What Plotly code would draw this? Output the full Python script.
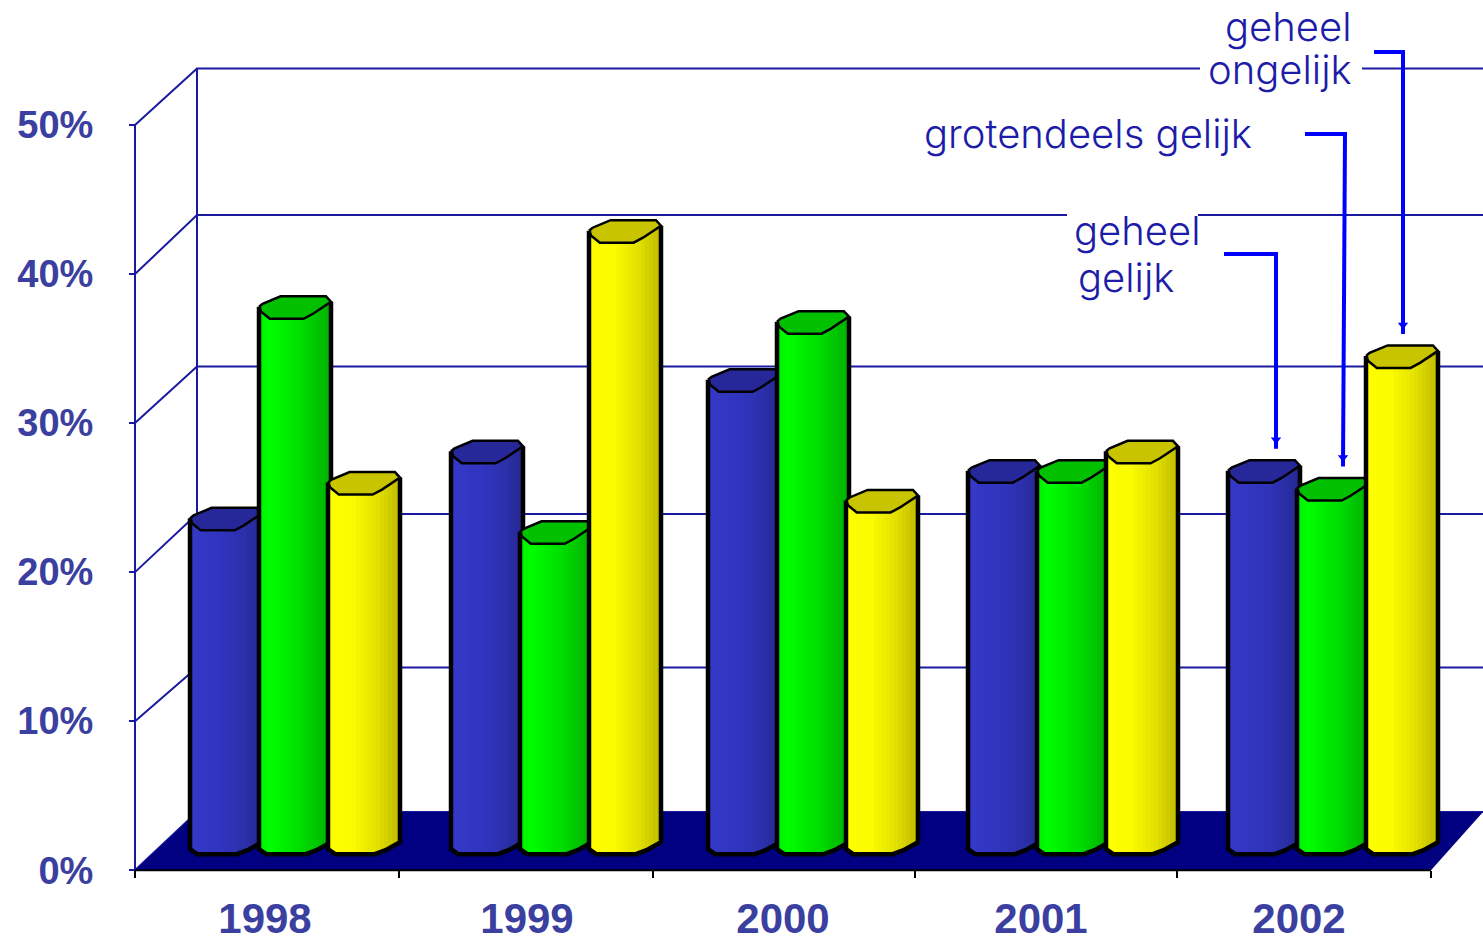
import numpy as np
import plotly.graph_objects as go

years = ["1998", "1999", "2000", "2001", "2002"]
geheel_gelijk = [22.4, 26.9, 31.7, 25.6, 25.6]
grotendeels_gelijk = [36.6, 21.5, 35.6, 25.6, 24.4]
geheel_ongelijk = [24.8, 41.7, 23.6, 26.9, 33.3]
pct_ticks = [0, 10, 20, 30, 40, 50]
pct_labels = ["0%", "10%", "20%", "30%", "40%", "50%"]
back_levels = [3.9, 13.6, 23.9, 33.8, 43.96, 53.8]

PX_PER_PCT = 14.9
AXIS_Y = 870
XR = [130, 1483]
YR = [-2, AXIS_Y / PX_PER_PCT]
BASE = 18 / PX_PER_PCT
GROUP_X = [190, 451, 708, 968, 1228]
W = 72
N = 18
NAVY = "#1a1aa0"
TXT = "#3b3f9f"

def py(p):
    return (AXIS_Y - p) / PX_PER_PCT

def hexmix(stops, t):
    ts = [s[0] for s in stops]
    rgb = [np.interp(t, ts, [int(s[1][k:k+2], 16) for s in stops]) for k in (1, 3, 5)]
    return "rgb(%d,%d,%d)" % tuple(int(v) for v in rgb)

series = [
    ("geheel gelijk", geheel_gelijk, 0,
     [(0, "#3539c8"), (0.5, "#3034bc"), (0.75, "#2c30aa"), (1, "#25288f")], "#26289a"),
    ("grotendeels gelijk", grotendeels_gelijk, 69,
     [(0, "#00f000"), (0.15, "#00ff00"), (0.6, "#00dc00"), (1, "#00b000")], "#00c000"),
    ("geheel ongelijk", geheel_ongelijk, 138,
     [(0, "#ffff00"), (0.35, "#fbfb00"), (0.7, "#e2e000"), (1, "#bfba00")], "#c8c400"),
]

top_t = [0, 0.03, 0.15, 0.62, 0.75, 1]
top_d = [0, 5, 12, 12, 7, -5]
bot_t = [0, 0.1, 0.65, 0.8, 1]
bot_d = [-5, 0, 0, -4, -12]
back_t = [0, 0.05, 0.3, 0.93, 1]
back_d = [0, -3, -10.5, -10.5, -5]

fig = go.Figure()

DX, GAPS = 62, {53.8: (1200, 1362), 43.96: (1067, 1198)}
for v, b in zip(pct_ticks, back_levels):
    xs, ys = [135, 135 + DX], [v, b]
    if b in GAPS:
        xs += [GAPS[b][0], None, GAPS[b][1]]
        ys += [b, None, b]
    xs.append(XR[1]); ys.append(b)
    fig.add_trace(go.Scatter(x=xs, y=ys, mode="lines", line=dict(color=NAVY, width=2),
                             hoverinfo="skip", showlegend=False))
fig.add_trace(go.Scatter(x=[135 + DX, 135 + DX], y=[back_levels[0], back_levels[-1]], mode="lines",
                         line=dict(color=NAVY, width=2), hoverinfo="skip", showlegend=False))
fig.add_trace(go.Scatter(x=[135, 135], y=[0, 50], mode="lines",
                         line=dict(color=NAVY, width=2), hoverinfo="skip", showlegend=False))
fig.add_trace(go.Scatter(x=[135, 197, 1483, 1431, 135], y=[0, back_levels[0], back_levels[0], 0, 0],
                         mode="lines", fill="toself", fillcolor="#000080", line=dict(width=0, color="#000080"),
                         hoverinfo="skip", showlegend=False))
fig.add_trace(go.Scatter(x=[135, 1431], y=[0, 0], mode="lines",
                         line=dict(color="#000000", width=2), hoverinfo="skip", showlegend=False))

ts = (np.arange(N) + 0.5) / N
for s, (name, vals, off, stops, capcol) in enumerate(series):
    ax = str(s + 2)
    xa, ya = "x" + ax, "y" + ax
    lefts = np.array([g + off for g in GROUP_X], dtype=float)
    vals = np.array(vals)
    for t in ts:
        tops = BASE + vals - np.interp(t, top_t, top_d) / PX_PER_PCT
        bases = BASE - 2 / PX_PER_PCT - np.interp(t, bot_t, bot_d) / PX_PER_PCT
        fig.add_trace(go.Bar(x=lefts + t * W, y=tops - bases, base=bases, width=W / N + 0.6,
                             marker=dict(color=hexmix(stops, t), line=dict(width=0)),
                             name=name, showlegend=False, hoverinfo="skip", xaxis=xa, yaxis=ya))
    for x0, v in zip(lefts, vals):
        c = BASE + v
        capx = [x0 + W * t for t in back_t] + [x0 + W * t for t in top_t[::-1]]
        capy = [c - d / PX_PER_PCT for d in back_d] + [c - d / PX_PER_PCT for d in top_d[::-1]]
        fig.add_trace(go.Scatter(x=capx, y=capy, mode="lines", fill="toself", fillcolor=capcol,
                                 line=dict(color="#000000", width=2.5), showlegend=False,
                                 hoverinfo="skip", xaxis=xa, yaxis=ya))
        ox = [x0] + [x0 + W * t for t in bot_t] + [x0 + W]
        oy = [c] + [BASE - 2 / PX_PER_PCT - d / PX_PER_PCT for d in bot_d] + [c + 5 / PX_PER_PCT]
        fig.add_trace(go.Scatter(x=ox, y=oy, mode="lines", line=dict(color="#000000", width=4.5),
                                 showlegend=False, hoverinfo="skip", xaxis=xa, yaxis=ya))

ARROW = "#0000ff"
for s, x_start, x_elbow, y_elbow, x_end in [(0, 1224, 1276, 254, 1276), (1, 1305, 1345, 134, 1343), (2, 1374, 1403, 52, 1403)]:
    top = BASE + series[s][1][4]
    end = top + 22 / PX_PER_PCT
    fig.add_trace(go.Scatter(x=[x_start, x_elbow, x_end], y=[py(y_elbow), py(y_elbow), end],
                             mode="lines", line=dict(color=ARROW, width=4), showlegend=False,
                             hoverinfo="skip", xaxis="x5", yaxis="y5"))
    fig.add_trace(go.Scatter(x=[x_end], y=[end + 9 / PX_PER_PCT], mode="markers",
                             marker=dict(symbol="triangle-down", size=9, color=ARROW, line=dict(width=0)),
                             showlegend=False, hoverinfo="skip", xaxis="x5", yaxis="y5"))

notes = [("geheel", 1288, 26), ("ongelijk", 1280, 69), ("grotendeels gelijk", 1088, 133),
         ("geheel", 1137, 230), ("gelijk", 1126, 277)]
for text, x, y in notes:
    fig.add_annotation(x=x, y=py(y), text=text, showarrow=False, xref="x5", yref="y5",
                       font=dict(family="Inter", size=40, weight=300, color="#1c1ca8"))

layout_axes = {}
for k in range(2, 6):
    layout_axes["xaxis%d" % k] = dict(overlaying="x", range=XR, visible=False, fixedrange=True, automargin=False)
    layout_axes["yaxis%d" % k] = dict(overlaying="y", range=YR, visible=False, fixedrange=True, automargin=False)

plot_h = (YR[1] - YR[0]) * PX_PER_PCT
fig.update_layout(
    width=1483, height=941, autosize=False,
    margin=dict(l=XR[0], r=0, t=0, b=941 - plot_h, pad=0),
    paper_bgcolor="white", plot_bgcolor="white",
    barmode="overlay", bargap=0, showlegend=False,
    xaxis=dict(range=XR, showgrid=False, zeroline=False, showline=False, automargin=False,
               anchor="free", position=2 / (YR[1] - YR[0]),
               tickmode="array", tickvals=[265, 527, 783, 1041, 1299], ticktext=years,
               ticks="", ticklabelstandoff=20,
               tickfont=dict(family="Liberation Sans", size=42, color=TXT, weight="bold"),
               minor=dict(tickmode="array", tickvals=[135, 399, 653, 915, 1177, 1431], ticks="outside",
                          ticklen=7, tickwidth=2, tickcolor="#000000", showgrid=False)),
    yaxis=dict(range=YR, showgrid=False, zeroline=False, showline=False, automargin=False,
               anchor="free", position=5 / (XR[1] - XR[0]),
               tickmode="array", tickvals=pct_ticks, ticktext=pct_labels,
               ticks="outside", ticklen=6, tickwidth=2, tickcolor=NAVY, ticklabelstandoff=28,
               tickfont=dict(family="Liberation Sans", size=38, color=TXT, weight="bold")),
    **layout_axes,
)
fig.write_html("out.html", default_width="1483px", default_height="941px",
               config={"displayModeBar": False},
               post_script="document.documentElement.style.overflow='hidden';document.body.style.margin='0';")
